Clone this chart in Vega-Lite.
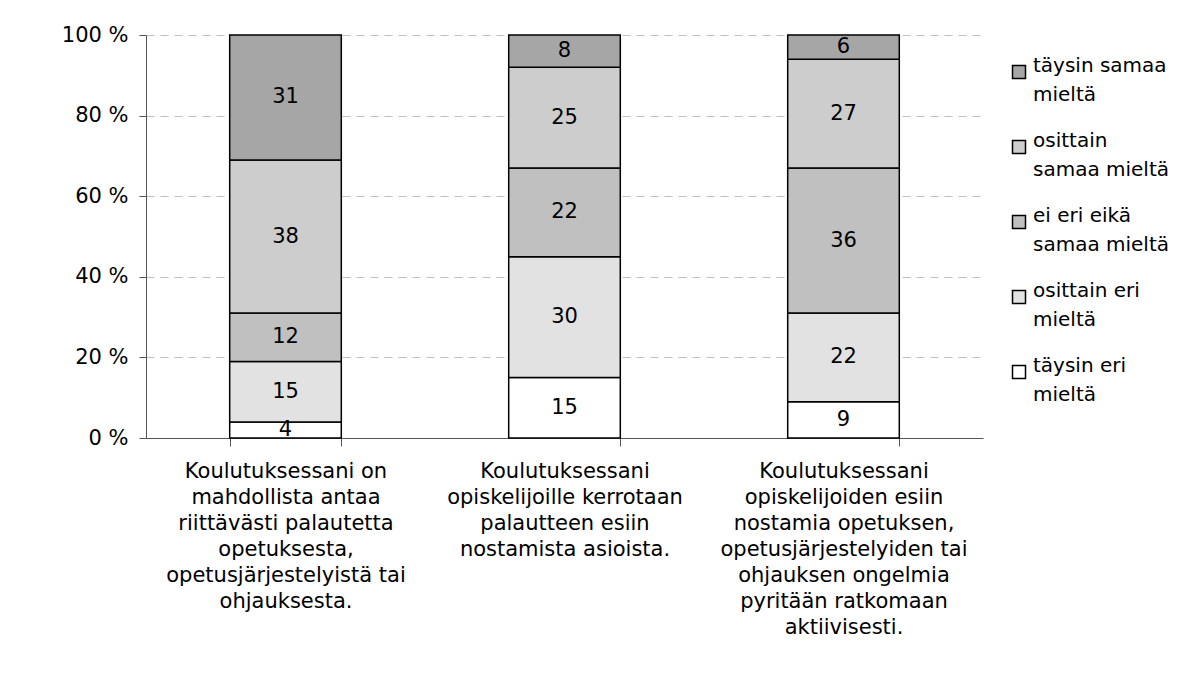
{
  "$schema": "https://vega.github.io/schema/vega-lite/v6.json",
  "width": 837,
  "height": 403,
  "padding": {"left": 5, "top": 24, "right": 5, "bottom": 5},
  "background": "white",
  "config": {
    "font": "DejaVu Sans",
    "view": {"stroke": null},
    "style": {"guide-label": {"lineHeight": 29}}
  },
  "data": {
    "values": [
      {"kysymys": "Koulutuksessani on mahdollista antaa riittävästi palautetta opetuksesta, opetusjärjestelyistä tai ohjauksesta.", "vastaus": "täysin eri mieltä", "jarjestys": 1, "osuus": 4},
      {"kysymys": "Koulutuksessani on mahdollista antaa riittävästi palautetta opetuksesta, opetusjärjestelyistä tai ohjauksesta.", "vastaus": "osittain eri mieltä", "jarjestys": 2, "osuus": 15},
      {"kysymys": "Koulutuksessani on mahdollista antaa riittävästi palautetta opetuksesta, opetusjärjestelyistä tai ohjauksesta.", "vastaus": "ei eri eikä samaa mieltä", "jarjestys": 3, "osuus": 12},
      {"kysymys": "Koulutuksessani on mahdollista antaa riittävästi palautetta opetuksesta, opetusjärjestelyistä tai ohjauksesta.", "vastaus": "osittain samaa mieltä", "jarjestys": 4, "osuus": 38},
      {"kysymys": "Koulutuksessani on mahdollista antaa riittävästi palautetta opetuksesta, opetusjärjestelyistä tai ohjauksesta.", "vastaus": "täysin samaa mieltä", "jarjestys": 5, "osuus": 31},
      {"kysymys": "Koulutuksessani opiskelijoille kerrotaan palautteen esiin nostamista asioista.", "vastaus": "täysin eri mieltä", "jarjestys": 1, "osuus": 15},
      {"kysymys": "Koulutuksessani opiskelijoille kerrotaan palautteen esiin nostamista asioista.", "vastaus": "osittain eri mieltä", "jarjestys": 2, "osuus": 30},
      {"kysymys": "Koulutuksessani opiskelijoille kerrotaan palautteen esiin nostamista asioista.", "vastaus": "ei eri eikä samaa mieltä", "jarjestys": 3, "osuus": 22},
      {"kysymys": "Koulutuksessani opiskelijoille kerrotaan palautteen esiin nostamista asioista.", "vastaus": "osittain samaa mieltä", "jarjestys": 4, "osuus": 25},
      {"kysymys": "Koulutuksessani opiskelijoille kerrotaan palautteen esiin nostamista asioista.", "vastaus": "täysin samaa mieltä", "jarjestys": 5, "osuus": 8},
      {"kysymys": "Koulutuksessani opiskelijoiden esiin nostamia opetuksen, opetusjärjestelyiden tai ohjauksen ongelmia pyritään ratkomaan aktiivisesti.", "vastaus": "täysin eri mieltä", "jarjestys": 1, "osuus": 9},
      {"kysymys": "Koulutuksessani opiskelijoiden esiin nostamia opetuksen, opetusjärjestelyiden tai ohjauksen ongelmia pyritään ratkomaan aktiivisesti.", "vastaus": "osittain eri mieltä", "jarjestys": 2, "osuus": 22},
      {"kysymys": "Koulutuksessani opiskelijoiden esiin nostamia opetuksen, opetusjärjestelyiden tai ohjauksen ongelmia pyritään ratkomaan aktiivisesti.", "vastaus": "ei eri eikä samaa mieltä", "jarjestys": 3, "osuus": 36},
      {"kysymys": "Koulutuksessani opiskelijoiden esiin nostamia opetuksen, opetusjärjestelyiden tai ohjauksen ongelmia pyritään ratkomaan aktiivisesti.", "vastaus": "osittain samaa mieltä", "jarjestys": 4, "osuus": 27},
      {"kysymys": "Koulutuksessani opiskelijoiden esiin nostamia opetuksen, opetusjärjestelyiden tai ohjauksen ongelmia pyritään ratkomaan aktiivisesti.", "vastaus": "täysin samaa mieltä", "jarjestys": 5, "osuus": 6}
    ]
  },
  "encoding": {
    "x": {
      "field": "kysymys",
      "type": "nominal",
      "sort": null,
      "title": null,
      "scale": {"paddingInner": 0.6, "paddingOuter": 0.3},
      "axis": {
        "labelAngle": 0,
        "labelFontSize": 21,
        "labelColor": "black",
        "labelLineHeight": 26,
        "labelBaseline": "top",
        "labelPadding": 14,
        "labelLimit": 400,
        "tickBand": "extent",
        "tickSize": 8,
        "tickColor": "#555555",
        "domainColor": "#555555",
        "labelExpr": "{'Koulutuksessani on mahdollista antaa riittävästi palautetta opetuksesta, opetusjärjestelyistä tai ohjauksesta.': ['Koulutuksessani on','mahdollista antaa','riittävästi palautetta','opetuksesta,','opetusjärjestelyistä tai','ohjauksesta.'], 'Koulutuksessani opiskelijoille kerrotaan palautteen esiin nostamista asioista.': ['Koulutuksessani','opiskelijoille kerrotaan','palautteen esiin','nostamista asioista.'], 'Koulutuksessani opiskelijoiden esiin nostamia opetuksen, opetusjärjestelyiden tai ohjauksen ongelmia pyritään ratkomaan aktiivisesti.': ['Koulutuksessani','opiskelijoiden esiin','nostamia opetuksen,','opetusjärjestelyiden tai','ohjauksen ongelmia','pyritään ratkomaan','aktiivisesti.']}[datum.label]"
      }
    },
    "y": {
      "field": "osuus",
      "type": "quantitative",
      "stack": "zero",
      "title": null,
      "scale": {"domain": [0, 100], "nice": false},
      "axis": {
        "values": [0, 20, 40, 60, 80, 100],
        "labelExpr": "datum.value + ' %'",
        "labelFontSize": 21,
        "labelColor": "black",
        "labelPadding": 11,
        "tickSize": 7,
        "tickColor": "#555555",
        "domainColor": "#555555",
        "gridColor": "#c0c0c0",
        "gridDash": [8, 6],
        "minExtent": 141,
        "maxExtent": 141
      }
    },
    "order": {"field": "jarjestys", "type": "quantitative"}
  },
  "layer": [
    {
      "mark": {"type": "bar", "stroke": "black", "strokeWidth": 1.5},
      "encoding": {
        "color": {
          "field": "vastaus",
          "type": "nominal",
          "scale": {
            "domain": ["täysin samaa mieltä", "osittain samaa mieltä", "ei eri eikä samaa mieltä", "osittain eri mieltä", "täysin eri mieltä"],
            "range": ["#a6a6a6", "#cdcdcd", "#c0c0c0", "#e2e2e2", "#ffffff"]
          },
          "legend": {
            "title": null,
            "orient": "none",
            "legendX": 863,
            "legendY": 27,
            "padding": 0,
            "symbolType": "square",
            "symbolSize": 169,
            "symbolStrokeColor": "black",
            "symbolStrokeWidth": 1.5,
            "labelFontSize": 20,
            "labelColor": "black",
            "labelOffset": 4,
            "labelBaseline": "alphabetic",
            "labelLimit": 200,
            "rowPadding": 26,
            "labelExpr": "{'täysin samaa mieltä': ['täysin samaa','mieltä'], 'osittain samaa mieltä': ['osittain','samaa mieltä'], 'ei eri eikä samaa mieltä': ['ei eri eikä','samaa mieltä'], 'osittain eri mieltä': ['osittain eri','mieltä'], 'täysin eri mieltä': ['täysin eri','mieltä']}[datum.label]"
          }
        }
      }
    },
    {
      "mark": {"type": "text", "fontSize": 21, "color": "black", "baseline": "middle"},
      "encoding": {
        "y": {"field": "osuus", "type": "quantitative", "stack": "zero", "bandPosition": 0.5},
        "text": {"field": "osuus", "type": "quantitative"}
      }
    }
  ]
}
